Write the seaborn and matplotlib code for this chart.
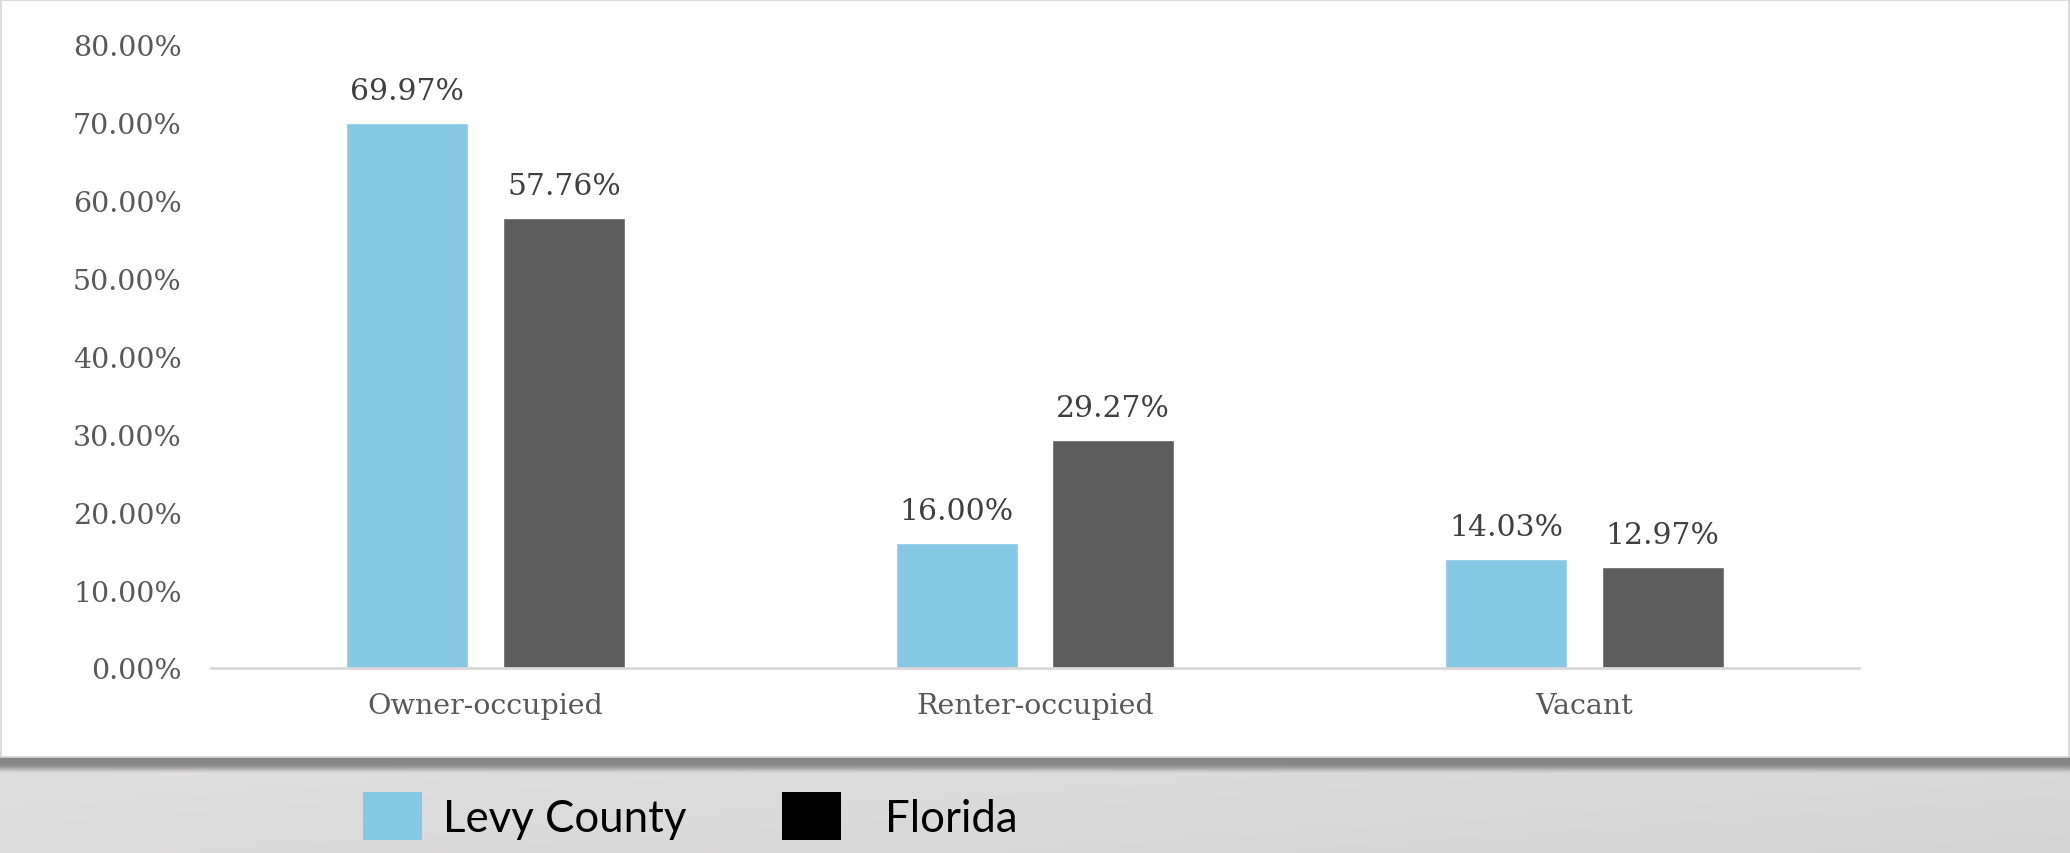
import numpy as np
import pandas as pd
import matplotlib
matplotlib.use("Agg")
import matplotlib.pyplot as plt
import matplotlib.patches as mpatches
from matplotlib.ticker import PercentFormatter
import seaborn as sns

# ---- data ----
categories = ["Owner-occupied", "Renter-occupied", "Vacant"]
levy_county = [69.97, 16.00, 14.03]
florida = [57.76, 29.27, 12.97]
series_names = ["Levy County", "Florida"]
y_ticks = [0, 10, 20, 30, 40, 50, 60, 70, 80]

df = pd.DataFrame({
    "Category": categories * 2,
    "Value": levy_county + florida,
    "Series": [series_names[0]] * 3 + [series_names[1]] * 3,
})

sns.set_theme(style="white")
plt.rcParams["font.family"] = ["DejaVu Serif"]

W, H = 2070, 854
fig = plt.figure(figsize=(W / 100, H / 100), dpi=100)
fig.patch.set_facecolor("white")

# bottom grey band with shadow
band_h = 96
bg_ax = fig.add_axes([0, 0, 1, band_h / H])
rows, cols = band_h, 400
r = np.arange(rows)[:, None].astype(float)
xx = np.linspace(0, 1, cols)[None, :]
base = 0.885 - 0.03 * xx - 0.02 * (r / rows)
shade = np.clip((r - 6) / 11.0, 0, 1)
shade = shade * shade * (3 - 2 * shade)
val = 0.53 + (base - 0.53) * shade
img = np.dstack([val, val * 0.995, val * 0.995])
bg_ax.imshow(img, aspect="auto", extent=[0, 1, 0, 1], origin="upper",
             interpolation="bilinear")
bg_ax.set_axis_off()

# thin border of the white panel
fig.patches.append(mpatches.Rectangle((0.0005, band_h / H), 0.999, 1 - band_h / H - 0.001,
                                      transform=fig.transFigure, fill=False,
                                      edgecolor="#d6d6d6", linewidth=1.2, zorder=0))

ax = fig.add_axes([211 / W, 1 - 669 / H, (1859 - 211) / W, (669 - 46) / H])
palette = {"Levy County": "#87c8e4", "Florida": "#5d5d5d"}
sns.barplot(data=df, x="Category", y="Value", hue="Series", palette=palette,
            order=categories, hue_order=series_names, width=0.57, gap=0.22,
            saturation=1, ax=ax, legend=False)

ax.set_ylim(0, 80)
ax.set_xlim(-0.5, 2.5)
ax.set_yticks(y_ticks)
ax.yaxis.set_major_formatter(PercentFormatter(xmax=100, decimals=2))
ax.set_xlabel("")
ax.set_ylabel("")
ax.set_facecolor("none")
for s in ["top", "right", "left"]:
    ax.spines[s].set_visible(False)
ax.spines["bottom"].set_color("#d9d9d9")
ax.spines["bottom"].set_linewidth(2)
ax.tick_params(axis="y", length=0, pad=21, labelsize=20.5, labelcolor="#595959")
ax.tick_params(axis="x", length=0, pad=17.5, labelsize=20.5, labelcolor="#595959")
ax.grid(False)

for cont in ax.containers:
    for bar in cont:
        h = bar.get_height()
        ax.annotate(f"{h:.2f}%", (bar.get_x() + bar.get_width() / 2, h),
                    xytext=(0, 13), textcoords="offset points",
                    ha="center", va="bottom", fontsize=21.5, color="#404040")

legend_colors = ["#87c8e4", "#000000"]
legend_x = [363 / W, 782 / W]
legend_pad = [0.47, 1.0]
for name, col, lx, tp in zip(series_names, legend_colors, legend_x, legend_pad):
    fig.legend([mpatches.Patch(facecolor=col, edgecolor="none")], [name],
               loc="center left", bbox_to_anchor=(lx, 37 / H), frameon=False,
               prop={"family": "Lato", "size": 31.5}, borderpad=0, borderaxespad=0,
               handlelength=1.35, handleheight=1.33, handletextpad=tp,
               labelcolor="#000000")

fig.savefig("out.png", dpi=100, facecolor=fig.get_facecolor())
